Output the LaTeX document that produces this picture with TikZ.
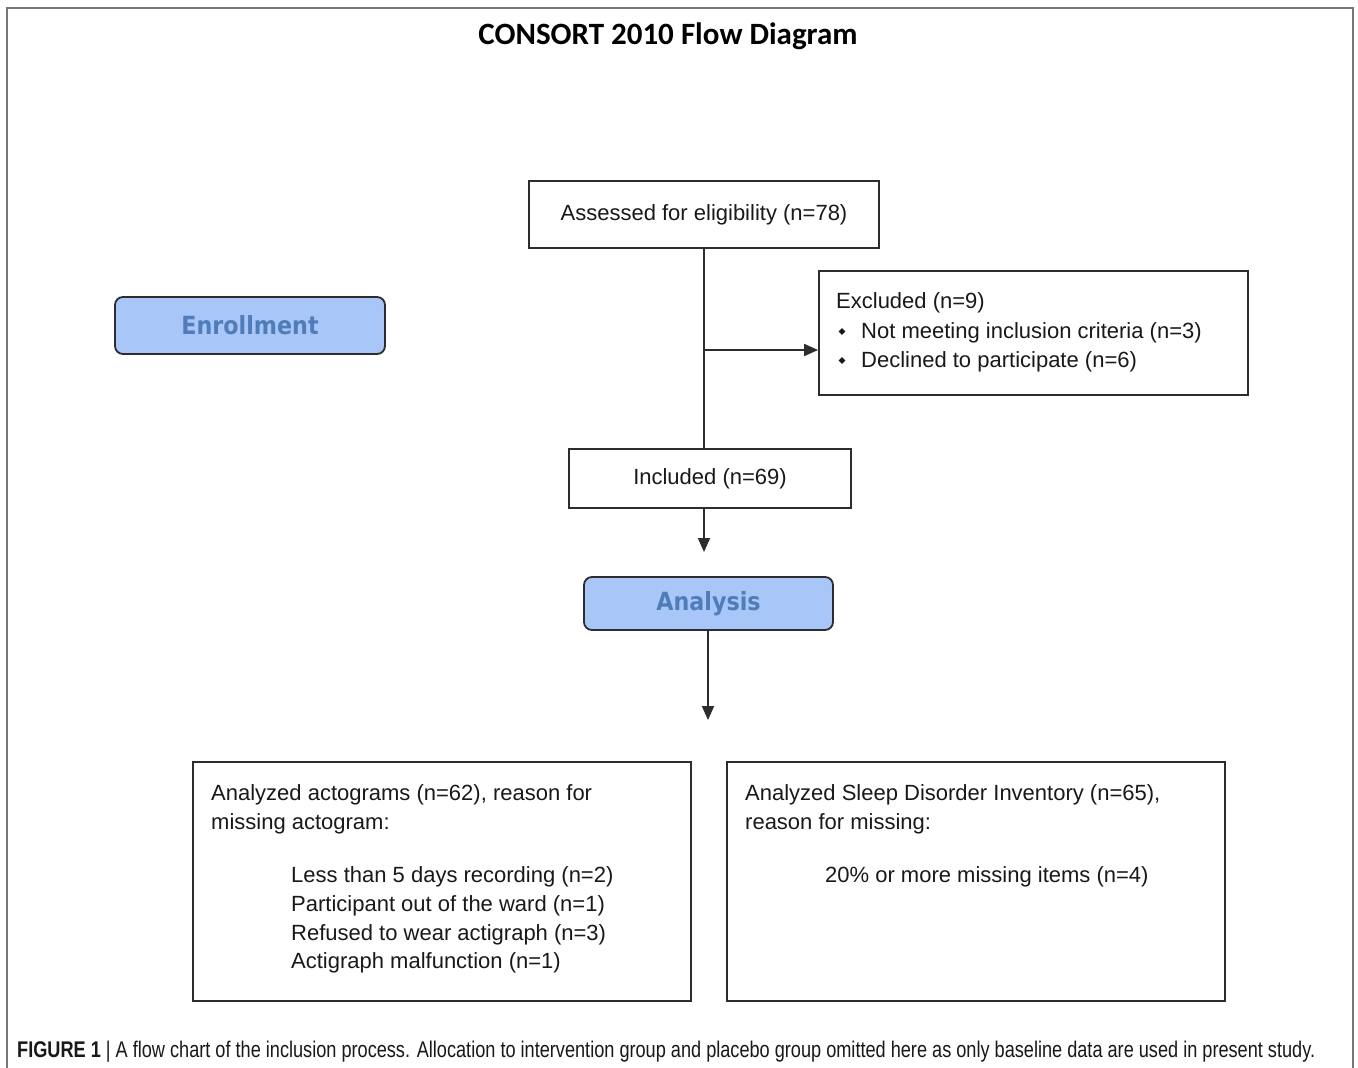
\documentclass[tikz,border=0pt]{standalone}
\usepackage{fontspec}
\usepackage{graphicx}
\setmainfont{Liberation Sans}
\newfontfamily\titlefont{Carlito}
\newfontfamily\stagefont{DejaVu Sans}[FakeStretch=0.89]
\newfontfamily\capfont{Liberation Sans}[FakeStretch=0.8]
\usetikzlibrary{arrows.meta,shapes.geometric}
\definecolor{stagefill}{RGB}{168,198,247}
\definecolor{stagetext}{RGB}{80,125,185}
\definecolor{edge}{RGB}{45,45,45}
\definecolor{ink}{RGB}{25,25,25}
\definecolor{framec}{RGB}{120,120,120}
\begin{document}
\begin{tikzpicture}[x=1pt,y=-1pt,
  box/.style={draw=edge, line width=1.8pt, fill=white, inner sep=0pt, rectangle},
  stage/.style={draw=edge, line width=1.8pt, fill=stagefill, rounded corners=8pt, inner sep=0pt, text=stagetext, font=\stagefont\bfseries\fontsize{25}{30}\selectfont},
  txt/.style={anchor=base west, inner sep=0pt, text=ink, font=\fontsize{22}{26}\selectfont},
  conn/.style={draw=edge, line width=1.8pt},
  arr/.style={conn, -{Triangle[length=14pt,width=12pt]}},
  bul/.style={diamond, fill=ink, inner sep=0pt, minimum size=7pt}
]
\useasboundingbox (0,0) rectangle (1358,1068);
\fill[white] (0,0) rectangle (1358,1068);
\draw[framec, line width=2pt] (7,1068) -- (7,8) -- (1353,8) -- (1353,1068);

\node[font=\titlefont\bfseries\fontsize{31}{36}\selectfont, text=black] (title) at (668,36) {CONSORT 2010 Flow Diagram};

\node[box, minimum width=350pt, minimum height=67pt, text=ink, font=\fontsize{22}{26}\selectfont] (assess) at (704,214.5) {Assessed for eligibility (n=78)};
\node[box, minimum width=429pt, minimum height=124pt] (excl) at (1033.5,333) {};
\node[box, minimum width=282pt, minimum height=59pt, text=ink, font=\fontsize{22}{26}\selectfont] (incl) at (710,478.5) {Included (n=69)};
\node[stage, minimum width=270pt, minimum height=57pt] (enroll) at (250,325.5) {Enrollment};
\node[stage, minimum width=249pt, minimum height=53pt] (analysis) at (708.5,603.5) {Analysis};
\node[box, minimum width=498pt, minimum height=239pt] (left) at (442,881.5) {};
\node[box, minimum width=498pt, minimum height=239pt] (right) at (976,881.5) {};

% Excluded text
\node[txt] (ex0) at (836,308) {Excluded (n=9)};
\node[bul] (b1) at (842,331.5) {};
\node[txt] (ex1) at (861,338) {Not meeting inclusion criteria (n=3)};
\node[bul] (b2) at (842,360.5) {};
\node[txt] (ex2) at (861,367) {Declined to participate (n=6)};

% Left bottom text
\node[txt] (l0) at (211,800) {Analyzed actograms (n=62), reason for};
\node[txt] (l1) at (211,829) {missing actogram:};
\node[txt] (l2) at (291,882) {Less than 5 days recording (n=2)};
\node[txt] (l3) at (291,911) {Participant out of the ward (n=1)};
\node[txt] (l4) at (291,940) {Refused to wear actigraph (n=3)};
\node[txt] (l5) at (291,968) {Actigraph malfunction (n=1)};

% Right bottom text
\node[txt] (r0) at (745,800) {Analyzed Sleep Disorder Inventory (n=65),};
\node[txt] (r1) at (745,829) {reason for missing:};
\node[txt] (r2) at (825,882) {20\% or more missing items (n=4)};

% connectors
\coordinate (branch) at (704,350);
\coordinate (inclend) at (704,552);
\coordinate (anaend) at (708,720);
\draw[conn] (assess.south) -- (assess.south |- incl.north);
\draw[arr] (branch) -- (branch -| excl.west);
\draw[arr] (inclend |- incl.south) -- (inclend);
\draw[arr] (anaend |- analysis.south) -- (anaend);

% caption
\node[anchor=base west, inner sep=0pt, text=ink] (cap) at (17,1057) {\resizebox{1298pt}{!}{\capfont\fontsize{19}{22}\selectfont {\bfseries FIGURE 1} | A flow chart of the inclusion process. Allocation to intervention group and placebo group omitted here as only baseline data are used in present study.}};
\end{tikzpicture}
\end{document}
